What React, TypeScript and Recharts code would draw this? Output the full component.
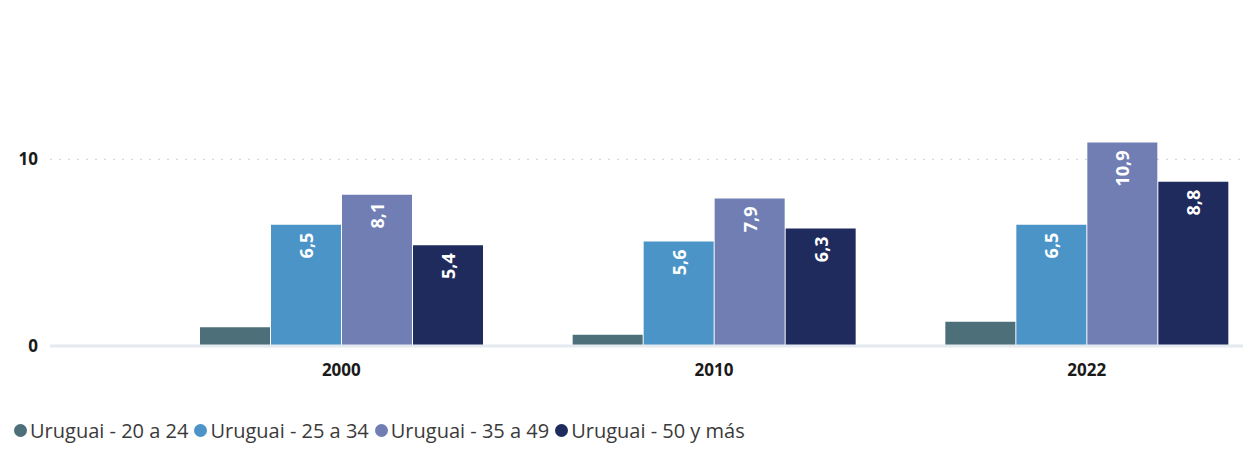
import { BarChart, Bar, XAxis, YAxis, CartesianGrid, Legend, LabelList } from 'recharts'

// ── Uruguay by age group, three census years ─────────────────────────────
const years = ['2000', '2010', '2022']
const age20to24 = [1.0, 0.6, 1.3]
const age25to34 = [6.5, 5.6, 6.5]
const age35to49 = [8.1, 7.9, 10.9]
const age50plus = [5.4, 6.3, 8.8]
const yTicks = [0, 10]
const gridValues = [10]

const seriesDefs = [
  { key: 'a', name: 'Uruguai - 20 a 24', color: '#4D6F79', values: age20to24, label: false },
  { key: 'b', name: 'Uruguai - 25 a 34', color: '#4B94C8', values: age25to34, label: true },
  { key: 'c', name: 'Uruguai - 35 a 49', color: '#707EB4', values: age35to49, label: true },
  { key: 'd', name: 'Uruguai - 50 y más', color: '#1F2B5C', values: age50plus, label: true },
]

const data = years.map((y, i) => {
  const row: Record<string, number | string> = { year: y }
  for (const s of seriesDefs) row[s.key] = s.values[i]
  return row
})

const FONT = '"Open Sans", sans-serif'

// value label rotated upward, sitting just below the top of the bar
function RotatedLabel(props: any) {
  const { x, y, width, value } = props
  const cx = x + width / 2
  const cy = y + 8
  return (
    <text x={cx} y={cy} transform={`rotate(-90 ${cx} ${cy})`} textAnchor="end"
          dominantBaseline="central" fill="#FFFFFF" fontSize={18} fontWeight={700} fontFamily={FONT}>
      {String(value).replace('.', ',')}
    </text>
  )
}

function LegendContent() {
  return (
    <div style={{ display: 'flex', alignItems: 'center', fontFamily: FONT, fontSize: 20, color: '#3A3A3A', lineHeight: '25px' }}>
      {seriesDefs.map(s => (
        <span key={s.key} style={{ display: 'flex', alignItems: 'center', marginRight: 6 }}>
          <span style={{ width: 13, height: 13, borderRadius: 7, background: s.color, marginRight: 3, display: 'inline-block' }} />
          {s.name}
        </span>
      ))}
    </div>
  )
}

export default function App() {
  return (
    <div style={{ position: 'absolute', left: 0, top: 0, width: 1243, height: 457, overflow: 'hidden', background: '#FFFFFF' }}>
      <BarChart width={1290} height={457} data={data}
                margin={{ top: 66, right: 17, left: 0, bottom: 56 }}
                barCategoryGap={45} barGap={1}>
        <CartesianGrid horizontal vertical={false} horizontalValues={gridValues}
                       stroke="#D0D0D0" strokeDasharray="2 7" />
        <XAxis dataKey="year" padding={{ left: 105, right: 0 }}
               axisLine={{ stroke: '#E4EAF0', strokeWidth: 3 }} tickLine={false} tickMargin={12}
               tick={{ fill: '#1A1A1A', fontSize: 17, fontWeight: 700, fontFamily: FONT }} />
        <YAxis domain={[0, 15]} ticks={yTicks} width={50} axisLine={false} tickLine={false}
               tickSize={0} tickMargin={12}
               tick={{ fill: '#1A1A1A', fontSize: 17, fontWeight: 700, fontFamily: FONT }} />
        <Legend content={<LegendContent />} verticalAlign="bottom" align="left"
                wrapperStyle={{ left: 14, bottom: 14, width: 900 }} />
        {seriesDefs.map(s => (
          <Bar key={s.key} dataKey={s.key} name={s.name} fill={s.color} isAnimationActive={false}>
            {s.label && <LabelList dataKey={s.key} content={<RotatedLabel />} />}
          </Bar>
        ))}
      </BarChart>
    </div>
  )
}
